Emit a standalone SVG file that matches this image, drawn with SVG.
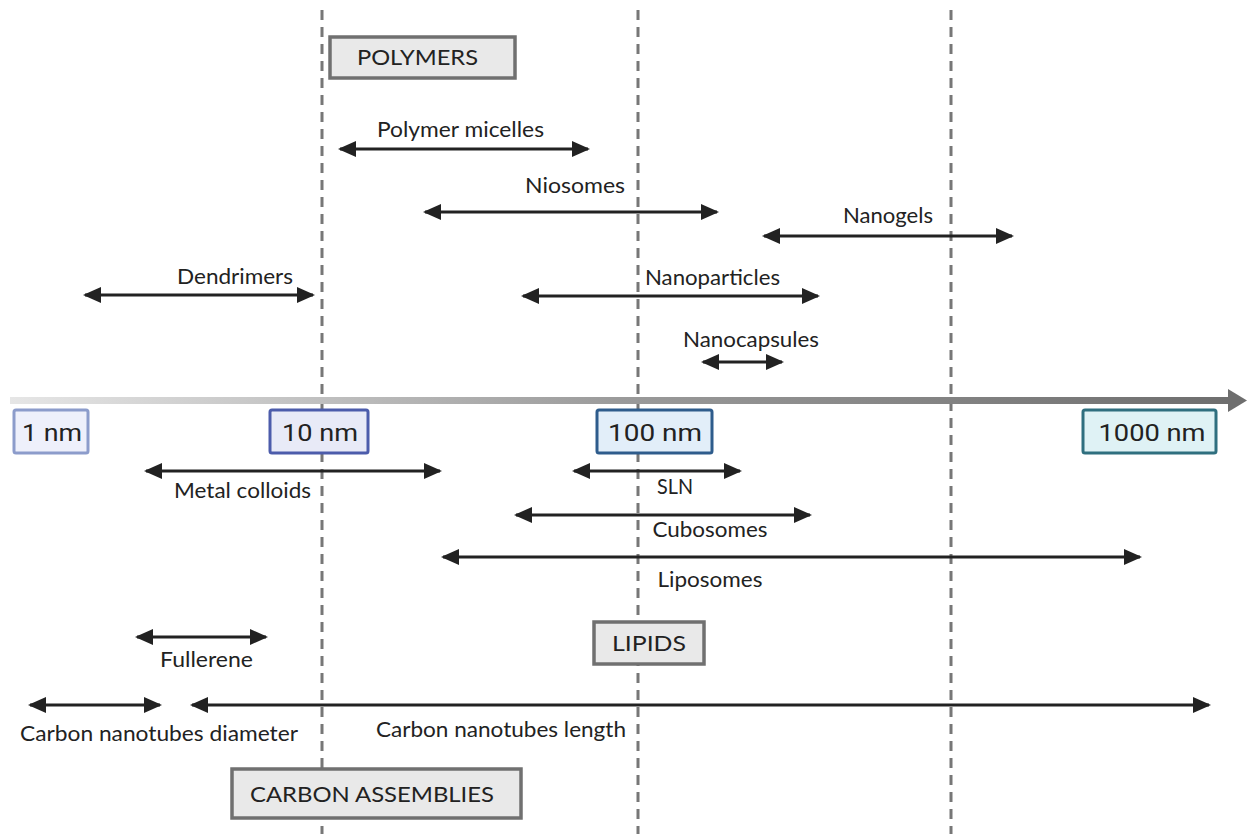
<svg xmlns="http://www.w3.org/2000/svg" width="1247" height="834" viewBox="0 0 1247 834">
<style>
.lbl{font-family:Lato,"Open Sans","Liberation Sans",sans-serif;font-size:21px;fill:#222;text-anchor:middle}
.cat{font-family:Lato,"Open Sans","Liberation Sans",sans-serif;font-size:21px;fill:#222;text-anchor:middle}
.catbox{fill:#e9e9e9;stroke:#707070;stroke-width:3.5}
.scl{font-family:Roboto,"Open Sans","Liberation Sans",sans-serif;font-size:24px;fill:#222;text-anchor:middle}
.arr{stroke:#222;stroke-width:3;fill:none;marker-start:url(#ah);marker-end:url(#ah)}
.dash{stroke:#777;stroke-width:3;stroke-dasharray:10 7}
</style>
<defs>
<marker id="ah" viewBox="0 0 18 16" refX="16" refY="8" markerWidth="18" markerHeight="16" markerUnits="userSpaceOnUse" orient="auto-start-reverse">
<path d="M0,0 L18,8 L0,16 Z" fill="#222"/>
</marker>
<linearGradient id="axg" x1="0" y1="0" x2="1" y2="0">
<stop offset="0" stop-color="#e6e6e6"/>
<stop offset="0.5" stop-color="#9a9a9a"/>
<stop offset="1" stop-color="#6e6e6e"/>
</linearGradient>
</defs>
<rect width="1247" height="834" fill="#fff"/>
<g id="gridlines">
<line class="dash" x1="322" y1="10" x2="322" y2="834"/>
<line class="dash" x1="638" y1="10" x2="638" y2="834"/>
<line class="dash" x1="951" y1="10" x2="951" y2="834"/>
</g>
<g id="axis">
<rect x="10" y="397" width="1222" height="7" fill="url(#axg)"/>
<path d="M1228,389 L1247,400.5 L1228,412 Z" fill="#6e6e6e"/>
</g>
<g id="scale-1nm"><rect x="14" y="410" width="74" height="43" rx="2" fill="#eef0fb" stroke="#8c9ccb" stroke-width="3"/><text class="scl" x="52" y="441" textLength="60" lengthAdjust="spacingAndGlyphs">1 nm</text></g>
<g id="scale-10nm"><rect x="270" y="410" width="98" height="43" rx="2" fill="#e8eaf7" stroke="#4c5cab" stroke-width="3"/><text class="scl" x="320" y="441" textLength="76" lengthAdjust="spacingAndGlyphs">10 nm</text></g>
<g id="scale-100nm"><rect x="597" y="410" width="115" height="43" rx="2" fill="#e2eef9" stroke="#2e5c8c" stroke-width="3"/><text class="scl" x="655" y="441" textLength="94" lengthAdjust="spacingAndGlyphs">100 nm</text></g>
<g id="scale-1000nm"><rect x="1083" y="410" width="133" height="43" rx="2" fill="#dff2f5" stroke="#2f6f7f" stroke-width="3"/><text class="scl" x="1152" y="441" textLength="107" lengthAdjust="spacingAndGlyphs">1000 nm</text></g>
<g id="polymers"><rect class="catbox" x="330" y="37" width="185" height="41"/><text class="cat" x="417.5" y="65" textLength="121" lengthAdjust="spacingAndGlyphs">POLYMERS</text></g>
<g id="lipids"><rect class="catbox" x="594" y="622" width="110" height="42"/><text class="cat" x="649" y="651" textLength="74" lengthAdjust="spacingAndGlyphs">LIPIDS</text></g>
<g id="carbon"><rect class="catbox" x="232" y="769" width="289" height="49"/><text class="cat" x="372" y="802" textLength="244" lengthAdjust="spacingAndGlyphs">CARBON ASSEMBLIES</text></g>
<g id="connectors">
<line class="arr" x1="340" y1="149" x2="588" y2="149"/>
<line class="arr" x1="425" y1="212" x2="717" y2="212"/>
<line class="arr" x1="764" y1="236" x2="1012" y2="236"/>
<line class="arr" x1="85" y1="295" x2="313" y2="295"/>
<line class="arr" x1="523" y1="296" x2="818" y2="296"/>
<line class="arr" x1="703" y1="362" x2="782" y2="362"/>
<line class="arr" x1="146" y1="471" x2="440" y2="471"/>
<line class="arr" x1="574" y1="471" x2="740" y2="471"/>
<line class="arr" x1="516" y1="515" x2="810" y2="515"/>
<line class="arr" x1="443" y1="557" x2="1140" y2="557"/>
<line class="arr" x1="137" y1="637" x2="266" y2="637"/>
<line class="arr" x1="30" y1="705" x2="160" y2="705"/>
<line class="arr" x1="192" y1="705" x2="1209" y2="705"/>
</g>
<g id="labels">
<text class="lbl" x="460.5" y="137" textLength="167" lengthAdjust="spacingAndGlyphs">Polymer micelles</text>
<text class="lbl" x="575" y="193" textLength="100" lengthAdjust="spacingAndGlyphs">Niosomes</text>
<text class="lbl" x="888" y="223" textLength="90" lengthAdjust="spacingAndGlyphs">Nanogels</text>
<text class="lbl" x="235" y="284" textLength="116" lengthAdjust="spacingAndGlyphs">Dendrimers</text>
<text class="lbl" x="712.5" y="285" textLength="135" lengthAdjust="spacingAndGlyphs">Nanoparticles</text>
<text class="lbl" x="751" y="347" textLength="136" lengthAdjust="spacingAndGlyphs">Nanocapsules</text>
<text class="lbl" x="242.5" y="498" textLength="137" lengthAdjust="spacingAndGlyphs">Metal colloids</text>
<text class="lbl" x="675" y="494" textLength="36" lengthAdjust="spacingAndGlyphs">SLN</text>
<text class="lbl" x="710" y="537" textLength="115" lengthAdjust="spacingAndGlyphs">Cubosomes</text>
<text class="lbl" x="710" y="587" textLength="105" lengthAdjust="spacingAndGlyphs">Liposomes</text>
<text class="lbl" x="206.5" y="667" textLength="93" lengthAdjust="spacingAndGlyphs">Fullerene</text>
<text class="lbl" x="159" y="741" textLength="278" lengthAdjust="spacingAndGlyphs">Carbon nanotubes diameter</text>
<text class="lbl" x="501" y="737" textLength="250" lengthAdjust="spacingAndGlyphs">Carbon nanotubes length</text>
</g>
</svg>
